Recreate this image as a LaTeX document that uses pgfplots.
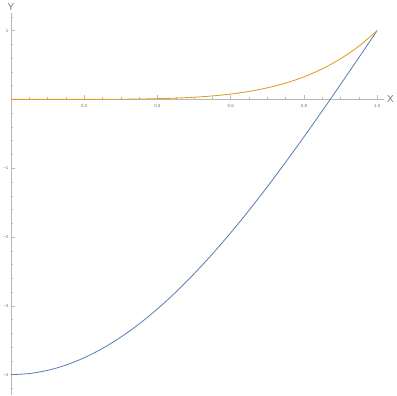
\documentclass[border=0pt]{standalone}
\usepackage{fontspec}
\setmainfont{Liberation Sans}
\usepackage{pgfplots}
\pgfplotsset{compat=1.18}
\definecolor{mblue}{rgb}{0.368417,0.506779,0.709798}
\definecolor{morange}{rgb}{0.880722,0.611041,0.142051}
\definecolor{axgray}{gray}{0.72}
\definecolor{lblgray}{gray}{0.45}
\begin{document}
\begin{tikzpicture}
\begin{axis}[
  scale only axis,
  width=373bp, height=382bp,
  xmin=0, xmax=1.02,
  ymin=-4.3, ymax=1.26,
  axis lines=middle,
  axis line style={axgray, line width=0.5pt, -},
  tick align=inside,
  xtick={0.2,0.4,0.6,0.8,1.0},
  xticklabels={0.2,0.4,0.6,0.8,1.0},
  minor xtick={0.05,0.1,0.15,0.25,0.3,0.35,0.45,0.5,0.55,0.65,0.7,0.75,0.85,0.9,0.95},
  ytick={-4,-3,-2,-1,1},
  yticklabels={−4,−3,−2,−1,1},
  minor ytick={-4.2,-3.8,-3.6,-3.4,-3.2,-2.8,-2.6,-2.4,-2.2,-1.8,-1.6,-1.4,-1.2,-0.8,-0.6,-0.4,-0.2,0.2,0.4,0.6,0.8,1.2},
  major tick length=4bp, minor tick length=2.2bp,
  every tick/.style={axgray, line width=0.4pt},
  tick label style={font=\fontsize{4.5}{5}\selectfont, text=lblgray},
  xticklabel style={yshift=-1bp},
  yticklabel style={xshift=1bp},
  xlabel={X}, ylabel={Y},
  xlabel style={font=\fontsize{10}{11}\selectfont, text=lblgray, anchor=west, xshift=-1bp},
  ylabel style={font=\fontsize{10}{11}\selectfont, text=lblgray, anchor=south, yshift=-1bp},
  clip=false,
]
\addplot[mblue, line width=0.85pt, smooth] coordinates {
(0,-4) (0.05,-3.9846) (0.1,-3.9384) (0.15,-3.8618) (0.2,-3.7553) (0.25,-3.6194)
(0.3,-3.4550) (0.35,-3.2632) (0.4,-3.0451) (0.45,-2.8021) (0.5,-2.5355)
(0.55,-2.2472) (0.6,-1.9389) (0.65,-1.6125) (0.7,-1.2699) (0.75,-0.9134)
(0.8,-0.5451) (0.85,-0.1672) (0.9,0.2178) (0.95,0.6077) (1,1)};
\addplot[morange, line width=0.85pt, smooth] coordinates {
(0,0) (0.05,0.0000003) (0.1,0.00001) (0.15,0.000076) (0.2,0.00032) (0.25,0.00098)
(0.3,0.00243) (0.35,0.00525) (0.4,0.01024) (0.45,0.01845) (0.5,0.03125)
(0.55,0.05033) (0.6,0.07776) (0.65,0.11603) (0.7,0.16807) (0.75,0.23730)
(0.8,0.32768) (0.85,0.44371) (0.9,0.59049) (0.95,0.77378) (1,1)};
\end{axis}
\end{tikzpicture}
\end{document}
